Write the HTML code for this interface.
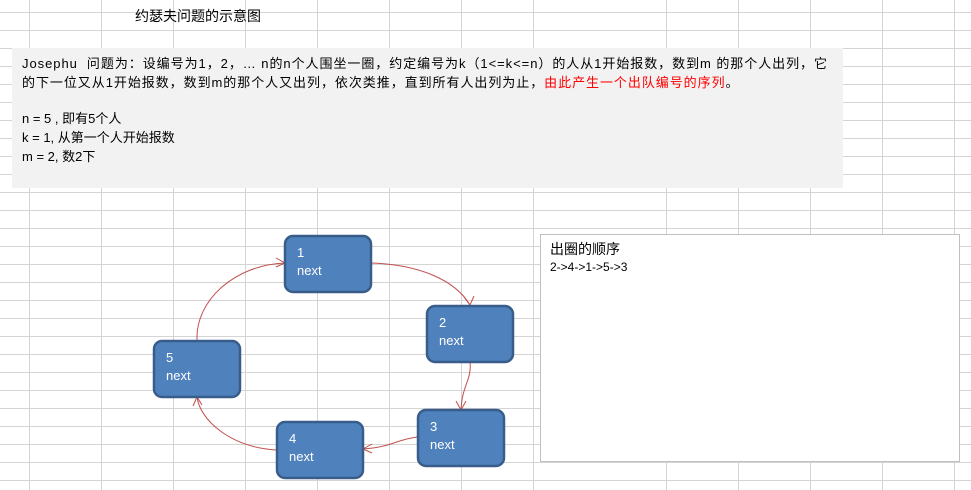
<!DOCTYPE html>
<html><head><meta charset="utf-8"><style>
html,body{margin:0;padding:0;width:971px;height:490px;overflow:hidden;background:#fff}
body{position:relative;font-family:"Liberation Sans","Noto Sans CJK SC",sans-serif}
.t{position:absolute;white-space:nowrap;color:#000}
</style></head><body>
<svg width="971" height="490" style="position:absolute;left:0;top:0">
<g stroke="#d4d4d4" stroke-width="1">
<line x1="29.5" y1="0" x2="29.5" y2="490"/><line x1="101.5" y1="0" x2="101.5" y2="490"/>
<line x1="173.5" y1="0" x2="173.5" y2="490"/><line x1="245.5" y1="0" x2="245.5" y2="490"/>
<line x1="317.5" y1="0" x2="317.5" y2="490"/><line x1="389.5" y1="0" x2="389.5" y2="490"/>
<line x1="461.5" y1="0" x2="461.5" y2="490"/><line x1="533.5" y1="0" x2="533.5" y2="490"/>
<line x1="666.5" y1="0" x2="666.5" y2="490"/><line x1="738.5" y1="0" x2="738.5" y2="490"/>
<line x1="810.5" y1="0" x2="810.5" y2="490"/><line x1="882.5" y1="0" x2="882.5" y2="490"/>
<line x1="954.5" y1="0" x2="954.5" y2="490"/>
</g>
<g stroke="#d4d4d4" stroke-width="1" id="h"></g>
<rect x="12" y="48" width="831" height="140" fill="#f2f2f2"/>
<rect x="540.5" y="234.5" width="419" height="227" fill="#fff" stroke="#bfbfbf"/>
<g fill="none" stroke="#c0504d" stroke-width="1">
<path d="M372 263 C420 265 455 280 470 305"/><path d="M464 297 L470 305 L474 296"/>
<path d="M470 362 C472 380 462 385 461 410"/><path d="M456 401 L461 410 L466 401"/>
<path d="M417 437 C395 440 392 447 363 449"/><path d="M372 444 L363 449 L372 453"/>
<path d="M276 450 C230 447 200 420 197 397"/><path d="M193 406 L197 397 L202 405"/>
<path d="M197 341 C195 300 235 265 285 263"/><path d="M276 258 L285 263 L276 267"/>
</g>
<g fill="#4f81bd" stroke="#385d8a" stroke-width="2.5">
<rect x="285" y="236" width="86" height="56" rx="8"/>
<rect x="427" y="306" width="86" height="56" rx="8"/>
<rect x="418" y="410" width="86" height="56" rx="8"/>
<rect x="277" y="422" width="86" height="56" rx="8"/>
<rect x="154" y="341" width="86" height="56" rx="8"/>
</g>
<g fill="#fff" font-family="Liberation Sans, sans-serif" font-size="13">
<text x="297" y="257">1</text><text x="297" y="275">next</text>
<text x="439" y="327">2</text><text x="439" y="345">next</text>
<text x="430" y="431">3</text><text x="430" y="449">next</text>
<text x="289" y="443">4</text><text x="289" y="461">next</text>
<text x="166" y="362">5</text><text x="166" y="380">next</text>
</g>
</svg>
<script>
var g=document.getElementById('h');for(var y=12;y<490;y+=18){var l=document.createElementNS('http://www.w3.org/2000/svg','line');l.setAttribute('x1',0);l.setAttribute('x2',971);l.setAttribute('y1',y+.5);l.setAttribute('y2',y+.5);g.appendChild(l);}
</script>
<div class="t" style="left:135px;top:6px;font-size:14px">约瑟夫问题的示意图</div>
<div class="t" style="left:22px;top:54px;font-size:13px;line-height:19px;letter-spacing:0.95px">Josephu&nbsp; 问题为：设编号为1，2，… n的n个人围坐一圈，约定编号为k（1&lt;=k&lt;=n）的人从1开始报数，数到m 的那个人出列，它<br>的下一位又从1开始报数，数到m的那个人又出列，依次类推，直到所有人出列为止，<span style="color:#f00">由此产生一个出队编号的序列</span>。</div>
<div class="t" style="left:22px;top:109px;font-size:13px;line-height:19px">n = 5 , 即有5个人<br>k = 1, 从第一个人开始报数<br>m = 2, 数2下</div>
<div class="t" style="left:550px;top:239px;font-size:14px">出圈的顺序</div>
<div class="t" style="left:550px;top:260px;font-size:12px">2-&gt;4-&gt;1-&gt;5-&gt;3</div>
</body></html>
